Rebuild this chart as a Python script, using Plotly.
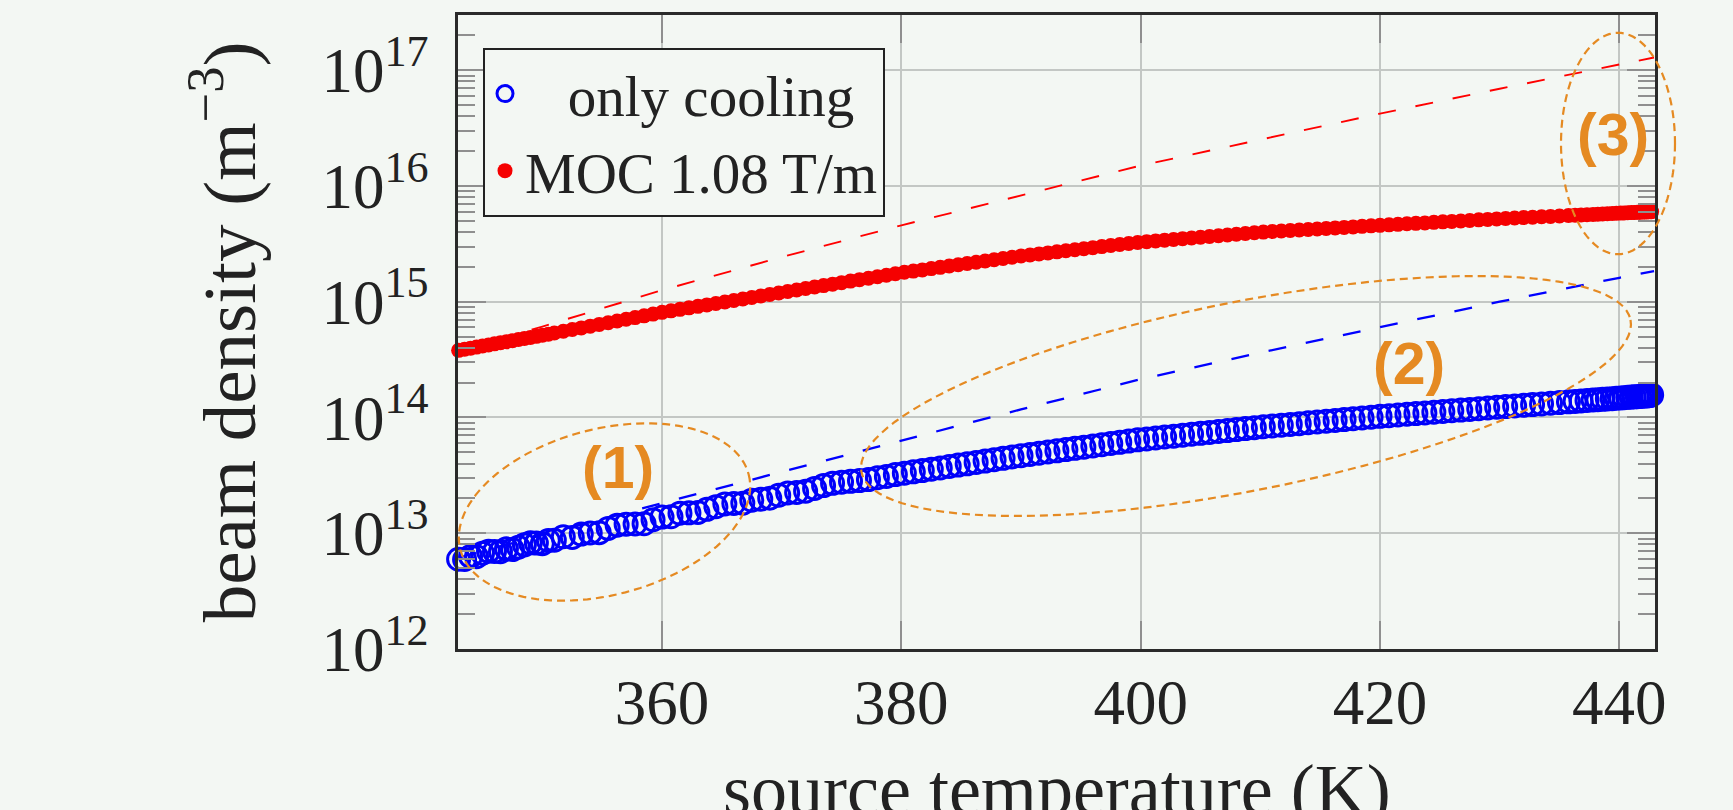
import math
import plotly.graph_objects as go

# ---------------- data ----------------
temperature_K = [
    343.0, 343.5, 344.0, 344.5, 345.0, 345.5, 346.0, 346.5, 347.0, 347.5, 348.0, 348.5,
    349.0, 349.5, 350.0, 350.5, 351.0,
    351.75, 352.5, 353.25, 354.0, 354.75, 355.5, 356.25, 357.0, 357.75, 358.5, 359.25, 360.0,
    360.75, 361.5, 362.25, 363.0, 363.75, 364.5, 365.25, 366.0, 366.75, 367.5, 368.25, 369.0, 369.75,
    370.5, 371.25, 372.0, 372.75, 373.5, 374.25, 375.0, 375.75, 376.5, 377.25, 378.0, 378.75, 379.5,
    380.25, 381.0, 381.75, 382.5, 383.25, 384.0, 384.75, 385.5, 386.25, 387.0, 387.75, 388.5, 389.25,
    390.0, 390.75, 391.5, 392.25, 393.0, 393.75, 394.5, 395.25, 396.0, 396.75, 397.5, 398.25, 399.0, 399.75,
    400.5, 401.25, 402.0, 402.75, 403.5, 404.25, 405.0, 405.75, 406.5, 407.25, 408.0, 408.75, 409.5,
    410.25, 411.0, 411.75, 412.5, 413.25, 414.0, 414.75, 415.5, 416.25, 417.0, 417.75, 418.5, 419.25,
    420.0, 420.75, 421.5, 422.25, 423.0, 423.75, 424.5, 425.25, 426.0, 426.75, 427.5, 428.25, 429.0, 429.75,
    430.5, 431.25, 432.0, 432.75, 433.5, 434.25, 435.0, 435.75,
    436.3, 436.8, 437.3, 437.8, 438.2, 438.6, 439.0, 439.4, 439.75, 440.1, 440.4, 440.7,
    441.0, 441.25, 441.5, 441.7, 441.9, 442.1, 442.3, 442.45, 442.6, 442.7,
]

density_only_cooling = [
    5.96e12, 5.93e12, 6.31e12, 6.27e12, 6.72e12, 7.00e12, 6.97e12, 6.93e12, 7.33e12, 7.23e12, 7.57e12, 7.94e12,
    8.26e12, 8.22e12, 8.13e12, 8.66e12, 8.71e12,
    9.33e12, 9.20e12, 9.84e12, 1.007e13, 1.012e13, 1.10e13, 1.175e13, 1.197e13, 1.202e13, 1.21e13, 1.31e13, 1.38e13,
    1.39e13, 1.49e13, 1.50e13, 1.51e13, 1.61e13, 1.695e13, 1.79e13, 1.81e13, 1.82e13, 1.93e13, 1.97e13, 2.01e13, 2.13e13,
    2.23e13, 2.25e13, 2.31e13, 2.44e13, 2.58e13, 2.70e13, 2.76e13, 2.81e13, 2.85e13, 2.91e13, 3.02e13, 3.09e13, 3.21e13,
    3.30e13, 3.39e13, 3.48e13, 3.58e13, 3.67e13, 3.78e13, 3.88e13, 3.98e13, 4.09e13, 4.20e13, 4.32e13, 4.44e13, 4.56e13,
    4.68e13, 4.79e13, 4.91e13, 5.03e13, 5.15e13, 5.28e13, 5.41e13, 5.54e13, 5.68e13, 5.82e13, 5.96e13, 6.10e13, 6.25e13, 6.41e13,
    6.53e13, 6.65e13, 6.78e13, 6.90e13, 7.03e13, 7.16e13, 7.30e13, 7.43e13, 7.58e13, 7.71e13, 7.86e13, 8.02e13, 8.17e13,
    8.30e13, 8.44e13, 8.57e13, 8.71e13, 8.85e13, 9.00e13, 9.14e13, 9.29e13, 9.44e13, 9.60e13, 9.75e13, 9.91e13, 1.007e14,
    1.023e14, 1.037e14, 1.052e14, 1.067e14, 1.081e14, 1.096e14, 1.112e14, 1.127e14, 1.143e14, 1.159e14, 1.175e14, 1.191e14, 1.208e14, 1.225e14,
    1.242e14, 1.259e14, 1.276e14, 1.293e14, 1.309e14, 1.327e14, 1.346e14, 1.365e14,
    1.377e14, 1.390e14, 1.403e14, 1.416e14, 1.426e14, 1.435e14, 1.445e14, 1.455e14, 1.466e14, 1.476e14, 1.483e14, 1.493e14,
    1.500e14, 1.507e14, 1.514e14, 1.521e14, 1.528e14, 1.531e14, 1.538e14, 1.542e14, 1.549e14, 1.567e14,
]

density_moc = [
    3.802e14, 3.883e14, 3.972e14, 4.056e14, 4.141e14, 4.228e14, 4.326e14, 4.417e14, 4.509e14, 4.603e14, 4.711e14, 4.809e14,
    4.910e14, 5.024e14, 5.130e14, 5.248e14, 5.372e14,
    5.560e14, 5.748e14, 5.944e14, 6.154e14, 6.369e14, 6.592e14, 6.825e14, 7.065e14, 7.295e14, 7.552e14, 7.818e14, 8.093e14,
    8.338e14, 8.592e14, 8.854e14, 9.120e14, 9.389e14, 9.663e14, 9.955e14, 1.026e15, 1.057e15, 1.089e15, 1.122e15, 1.156e15, 1.191e15,
    1.226e15, 1.262e15, 1.300e15, 1.340e15, 1.378e15, 1.419e15, 1.462e15, 1.507e15, 1.551e15, 1.596e15, 1.645e15, 1.695e15, 1.744e15,
    1.795e15, 1.839e15, 1.884e15, 1.932e15, 1.982e15, 2.033e15, 2.084e15, 2.138e15, 2.193e15, 2.247e15, 2.302e15, 2.361e15, 2.422e15,
    2.484e15, 2.536e15, 2.589e15, 2.642e15, 2.698e15, 2.754e15, 2.813e15, 2.871e15, 2.932e15, 2.993e15, 3.056e15, 3.119e15, 3.184e15, 3.251e15,
    3.304e15, 3.355e15, 3.405e15, 3.451e15, 3.508e15, 3.557e15, 3.611e15, 3.665e15, 3.717e15, 3.768e15, 3.829e15, 3.883e15, 3.945e15,
    3.995e15, 4.037e15, 4.080e15, 4.122e15, 4.164e15, 4.208e15, 4.252e15, 4.296e15, 4.341e15, 4.386e15, 4.432e15, 4.478e15, 4.525e15,
    4.571e15, 4.614e15, 4.662e15, 4.711e15, 4.754e15, 4.797e15, 4.850e15, 4.899e15, 4.944e15, 4.989e15, 5.036e15, 5.095e15, 5.142e15, 5.196e15,
    5.236e15, 5.285e15, 5.330e15, 5.372e15, 5.421e15, 5.458e15, 5.508e15, 5.560e15,
    5.586e15, 5.625e15, 5.650e15, 5.676e15, 5.702e15, 5.728e15, 5.754e15, 5.781e15, 5.808e15, 5.829e15, 5.849e15, 5.863e15,
    5.890e15, 5.904e15, 5.917e15, 5.931e15, 5.944e15, 5.958e15, 5.972e15, 5.985e15, 5.990e15, 6.000e15,
]

# dashed extrapolation curves
fit_temperature_K = [343, 350, 360, 370, 380, 390, 400, 410, 420, 430, 440, 442.9]
fit_only_cooling = [6.17e12, 9.66e12, 1.82e13, 3.39e13, 6.31e13, 1.175e14, 2.14e14, 3.63e14, 6.03e14, 1.0e15, 1.61e15, 1.84e15]
fit_moc = [3.76e14, 6.10e14, 1.259e15, 2.43e15, 4.571e15, 8.318e15, 1.50e16, 2.512e16, 4.22e16, 6.918e16, 1.13e17, 1.288e17]

series_names = ["only cooling", "MOC 1.08 T/m"]
x_title = "source temperature (K)"
y_title = "beam density (m<sup>−3</sup>)"
x_tick_values = [360, 380, 400, 420, 440]
y_tick_values = [1e12, 1e13, 1e14, 1e15, 1e16, 1e17]
y_tick_text = ["10<sup>12</sup>", "10<sup>13</sup>", "10<sup>14</sup>",
               "10<sup>15</sup>", "10<sup>16</sup>", "10<sup>17</sup>"]
region_labels = ["(1)", "(2)", "(3)"]

assert len(temperature_K) == len(density_only_cooling) == len(density_moc)

# ---------------- styling / geometry ----------------
BG = "#F3F7F3"
TXT = "#222222"
ORANGE = "#E58A22"
SERIF = "Liberation Serif"
NBSP = "\u00a0"
W, H = 1733, 810
ML, MR, MT, MB = 458, 78, 15, 161
PW, PH = W - ML - MR, H - MT - MB


def to_paper(px, py):
    return (px - ML) / PW, (H - MB - py) / PH


def ellipse_path(cx, cy, a, b, ang_deg, n=120):
    th = math.radians(ang_deg)
    pts = []
    for i in range(n):
        t = 2 * math.pi * i / n
        dx, dy = a * math.cos(t), b * math.sin(t)
        x = cx + dx * math.cos(th) + dy * math.sin(th)
        y = cy - dx * math.sin(th) + dy * math.cos(th)
        pts.append(to_paper(x, y))
    return "M " + " L ".join(f"{x:.5f},{y:.5f}" for x, y in pts) + " Z"


fig = go.Figure()

fig.add_trace(go.Scatter(
    x=fit_temperature_K, y=fit_only_cooling, mode="lines",
    line=dict(color="rgb(0,0,255)", width=2.3, dash="18px,20px"),
    showlegend=False, hoverinfo="skip"))
fig.add_trace(go.Scatter(
    x=fit_temperature_K, y=fit_moc, mode="lines",
    line=dict(color="rgb(255,0,0)", width=1.9, dash="18px,20px"),
    showlegend=False, hoverinfo="skip"))

fig.add_trace(go.Scatter(
    x=temperature_K, y=density_only_cooling, mode="markers",
    name=NBSP * 3 + series_names[0],
    marker=dict(symbol="circle-open", size=22, color="rgb(0,0,250)",
                line=dict(width=3, color="rgb(0,0,250)")),
    cliponaxis=False))
fig.add_trace(go.Scatter(
    x=temperature_K, y=density_moc, mode="markers", name=series_names[1],
    marker=dict(symbol="circle", size=15, color="rgb(245,0,0)", line=dict(width=0)),
    cliponaxis=False))

# annotation ellipses (pixel geometry -> paper coords)
ellipses = [
    (604.5, 512, 149, 83, 14.6),
    (1246, 396, 392, 94.5, 11.2),
    (1618, 143.5, 57, 110.7, 0),
]
shapes = []
for cx, cy, a, b, ang in ellipses:
    shapes.append(dict(type="path", xref="paper", yref="paper", path=ellipse_path(cx, cy, a, b, ang),
                       line=dict(color=ORANGE, width=2.2, dash="8px,5px"), layer="above"))

label_pos = [(618.3, 468), (1409.3, 364), (1612.8, 135)]
annotations = []
for txt, (px, py) in zip(region_labels, label_pos):
    xp, yp = to_paper(px, py)
    annotations.append(dict(text=f"<b>{txt}</b>", x=xp, y=yp, xref="paper", yref="paper",
                            xanchor="center", yanchor="middle", showarrow=False,
                            font=dict(family="Liberation Sans", size=59, color=ORANGE)))

# x-axis title placed like the original (partly below the page edge)
annotations.append(dict(text=x_title, x=0.5, y=to_paper(0, 748)[1], xref="paper", yref="paper",
                        xanchor="center", yanchor="top", showarrow=False,
                        font=dict(family=SERIF, size=72, color=TXT)))

minor_vals = [m * 10 ** e for e in range(12, 18) for m in range(2, 10)]

fig.update_layout(
    template="none",
    width=W, height=H, autosize=False,
    margin=dict(l=ML, r=MR, t=MT, b=MB, pad=0),
    paper_bgcolor=BG, plot_bgcolor=BG,
    showlegend=True,
    legend=dict(x=(483 - ML) / PW, y=(H - MB - 48) / PH, xanchor="left", yanchor="top",
                bgcolor=BG, bordercolor=TXT, borderwidth=2,
                font=dict(family=SERIF, size=57, color=TXT), itemsizing="trace"),
    xaxis=dict(
        range=[342.95, 442.98], tickmode="array", tickvals=x_tick_values,
        ticks="inside", ticklen=28, tickwidth=1.5, tickcolor="#8f8f8f",
        showgrid=True, gridcolor="#C3C7C4", gridwidth=1.6, zeroline=False,
        showline=True, linecolor="#2a2a2a", linewidth=2.5, mirror="ticks",
        tickfont=dict(family=SERIF, size=63, color=TXT), ticklabelstandoff=-3,
        automargin=False,
    ),
    yaxis=dict(
        type="log", range=[12, 17.477], tickmode="array", tickvals=y_tick_values, ticktext=y_tick_text,
        ticks="inside", ticklen=28, tickwidth=1.5, tickcolor="#8f8f8f",
        minor=dict(tickvals=minor_vals, ticks="inside", ticklen=17, tickwidth=1.5, tickcolor="#8f8f8f", showgrid=False),
        showgrid=True, gridcolor="#C3C7C4", gridwidth=1.6, zeroline=False,
        showline=True, linecolor="#2a2a2a", linewidth=2.5, mirror="ticks",
        tickfont=dict(family=SERIF, size=63, color=TXT), ticklabelstandoff=14,
        title=dict(text=y_title, font=dict(family=SERIF, size=75, color=TXT), standoff=42),
        automargin=False,
    ),
    shapes=shapes,
    annotations=annotations,
)

fig.write_html(
    "out.html",
    config={"displayModeBar": False},
    post_script="document.documentElement.style.margin='0';document.body.style.margin='0';"
                "document.body.style.overflow='hidden';document.body.style.background='" + BG + "';",
)
